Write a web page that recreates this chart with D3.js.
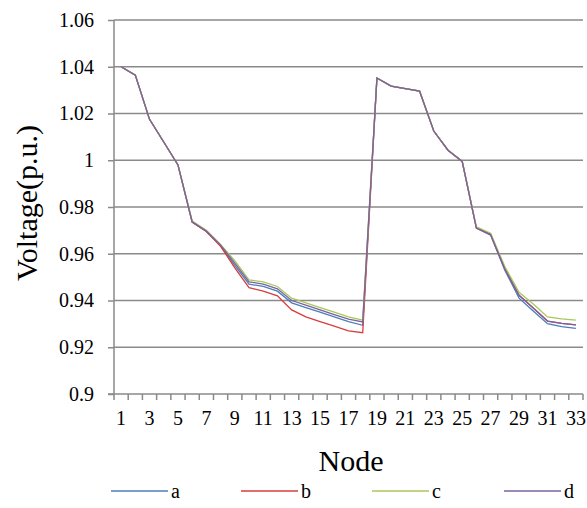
<!DOCTYPE html>
<html>
<head>
<meta charset="utf-8">
<script src="https://cdn.jsdelivr.net/npm/d3@7"></script>
<style>
  body { margin: 0; background: #fff; }
</style>
</head>
<body>
<div id="chart"></div>
<script>
const nodes = [1,2,3,4,5,6,7,8,9,10,11,12,13,14,15,16,17,18,19,20,21,22,23,24,25,26,27,28,29,30,31,32,33];

const seriesA = [1.04,1.0364,1.0175,1.0078,0.998,0.9735,0.9695,0.9635,0.955,0.947,0.946,0.944,0.939,0.937,0.935,0.933,0.931,0.9294,
  1.0352,1.0317,1.0306,1.0296,1.0125,1.0043,0.9995,0.971,0.968,0.953,0.941,0.9355,0.9301,0.9288,0.9281];
const seriesB = [1.04,1.0364,1.0175,1.0078,0.998,0.9735,0.9695,0.9632,0.954,0.9455,0.944,0.942,0.936,0.933,0.931,0.929,0.927,0.9262,
  1.0352,1.0317,1.0306,1.0296,1.0125,1.0043,0.9995,0.971,0.9682,0.9535,0.9422,0.9368,0.9312,0.9302,0.9296];
const seriesC = [1.04,1.0364,1.0175,1.0078,0.998,0.974,0.970,0.964,0.957,0.9488,0.948,0.946,0.941,0.939,0.937,0.935,0.933,0.9316,
  1.0352,1.0317,1.0306,1.0296,1.0125,1.0043,0.9995,0.9715,0.9688,0.9545,0.9435,0.9385,0.933,0.9321,0.9316];
const seriesD = [1.04,1.0364,1.0175,1.0078,0.998,0.9737,0.9697,0.9637,0.956,0.948,0.947,0.945,0.940,0.938,0.936,0.934,0.932,0.9308,
  1.0352,1.0317,1.0306,1.0296,1.0125,1.0043,0.9995,0.971,0.9682,0.9535,0.9422,0.9368,0.9312,0.9302,0.9296];

const seriesNames = ["a", "b", "c", "d"];
const seriesColors = ["#4a7ebb", "#d83c3c", "#a8c85a", "#7a62a0"];
const allSeries = [seriesA, seriesB, seriesC, seriesD];
const yTicks = [0.9, 0.92, 0.94, 0.96, 0.98, 1, 1.02, 1.04, 1.06];

const width = 587, height = 508;
const plotLeft = 114, plotRight = 583, plotTop = 20, plotBottom = 394;
const serif = '"Liberation Serif", "Times New Roman", serif';

const svg = d3.select("#chart").append("svg")
  .attr("width", width)
  .attr("height", height);

const x = d3.scaleBand().domain(nodes).range([plotLeft, plotRight]);
const y = d3.scaleLinear().domain([0.9, 1.06]).range([plotBottom, plotTop]);

// y axis with small outside ticks
const yAxis = svg.append("g")
  .attr("transform", `translate(${plotLeft},0)`)
  .call(d3.axisLeft(y).tickValues(yTicks).tickSize(6).tickPadding(14)
    .tickFormat(d => String(+d.toFixed(2))));
yAxis.select(".domain").remove();
yAxis.selectAll(".tick line").attr("stroke", "#8a8a8a").attr("stroke-width", 1.5);
yAxis.selectAll(".tick text")
  .style("font-family", serif)
  .style("font-size", "20px")
  .attr("fill", "#000");

// horizontal gridlines
svg.append("g").selectAll("line")
  .data(yTicks.slice(1))
  .join("line")
  .attr("x1", plotLeft).attr("x2", plotRight)
  .attr("y1", d => y(d)).attr("y2", d => y(d))
  .attr("stroke", "#8a8a8a").attr("stroke-width", 1.5);

svg.append("line")
  .attr("x1", plotLeft).attr("x2", plotLeft).attr("y1", plotTop).attr("y2", plotBottom)
  .attr("stroke", "#8a8a8a").attr("stroke-width", 1.5);

// x axis: ticks at category boundaries, labels on odd nodes
const bounds = nodes.map(n => x(n)).concat([plotRight]);
svg.append("line")
  .attr("x1", plotLeft - 6).attr("x2", plotRight).attr("y1", plotBottom).attr("y2", plotBottom)
  .attr("stroke", "#8a8a8a").attr("stroke-width", 1.5);
svg.append("g").selectAll("line")
  .data(bounds)
  .join("line")
  .attr("x1", d => d).attr("x2", d => d)
  .attr("y1", plotBottom).attr("y2", plotBottom + 6)
  .attr("stroke", "#8a8a8a").attr("stroke-width", 1.5);
svg.append("g").selectAll("text")
  .data(nodes.filter(n => n % 2 === 1))
  .join("text")
  .attr("x", d => x(d) + x.bandwidth() / 2)
  .attr("y", 425)
  .attr("text-anchor", "middle")
  .style("font-family", serif)
  .style("font-size", "20px")
  .text(d => d);

// axis titles
svg.append("text")
  .attr("x", 351).attr("y", 471)
  .attr("text-anchor", "middle")
  .style("font-family", serif)
  .style("font-size", "30px")
  .text("Node");
svg.append("text")
  .attr("transform", "translate(37,203) rotate(-90)")
  .attr("text-anchor", "middle")
  .style("font-family", serif)
  .style("font-size", "30px")
  .text("Voltage(p.u.)");

// series lines
const line = d3.line()
  .x((d, i) => x(nodes[i]) + x.bandwidth() / 2)
  .y(d => y(d));

svg.append("g").selectAll("path")
  .data(allSeries)
  .join("path")
  .attr("fill", "none")
  .attr("stroke", (d, i) => seriesColors[i])
  .attr("stroke-width", 1.3)
  .attr("d", line);

// legend
const legendX = [111, 241, 372, 504];
const lg = svg.append("g").selectAll("g")
  .data(seriesNames)
  .join("g")
  .attr("transform", (d, i) => `translate(${legendX[i]},491)`);
lg.append("line")
  .attr("x1", 0).attr("x2", 57)
  .attr("stroke", (d, i) => seriesColors[i]).attr("stroke-width", 1.3);
lg.append("text")
  .attr("x", 60).attr("y", 7)
  .style("font-family", serif)
  .style("font-size", "20px")
  .text(d => d);
</script>
</body>
</html>
